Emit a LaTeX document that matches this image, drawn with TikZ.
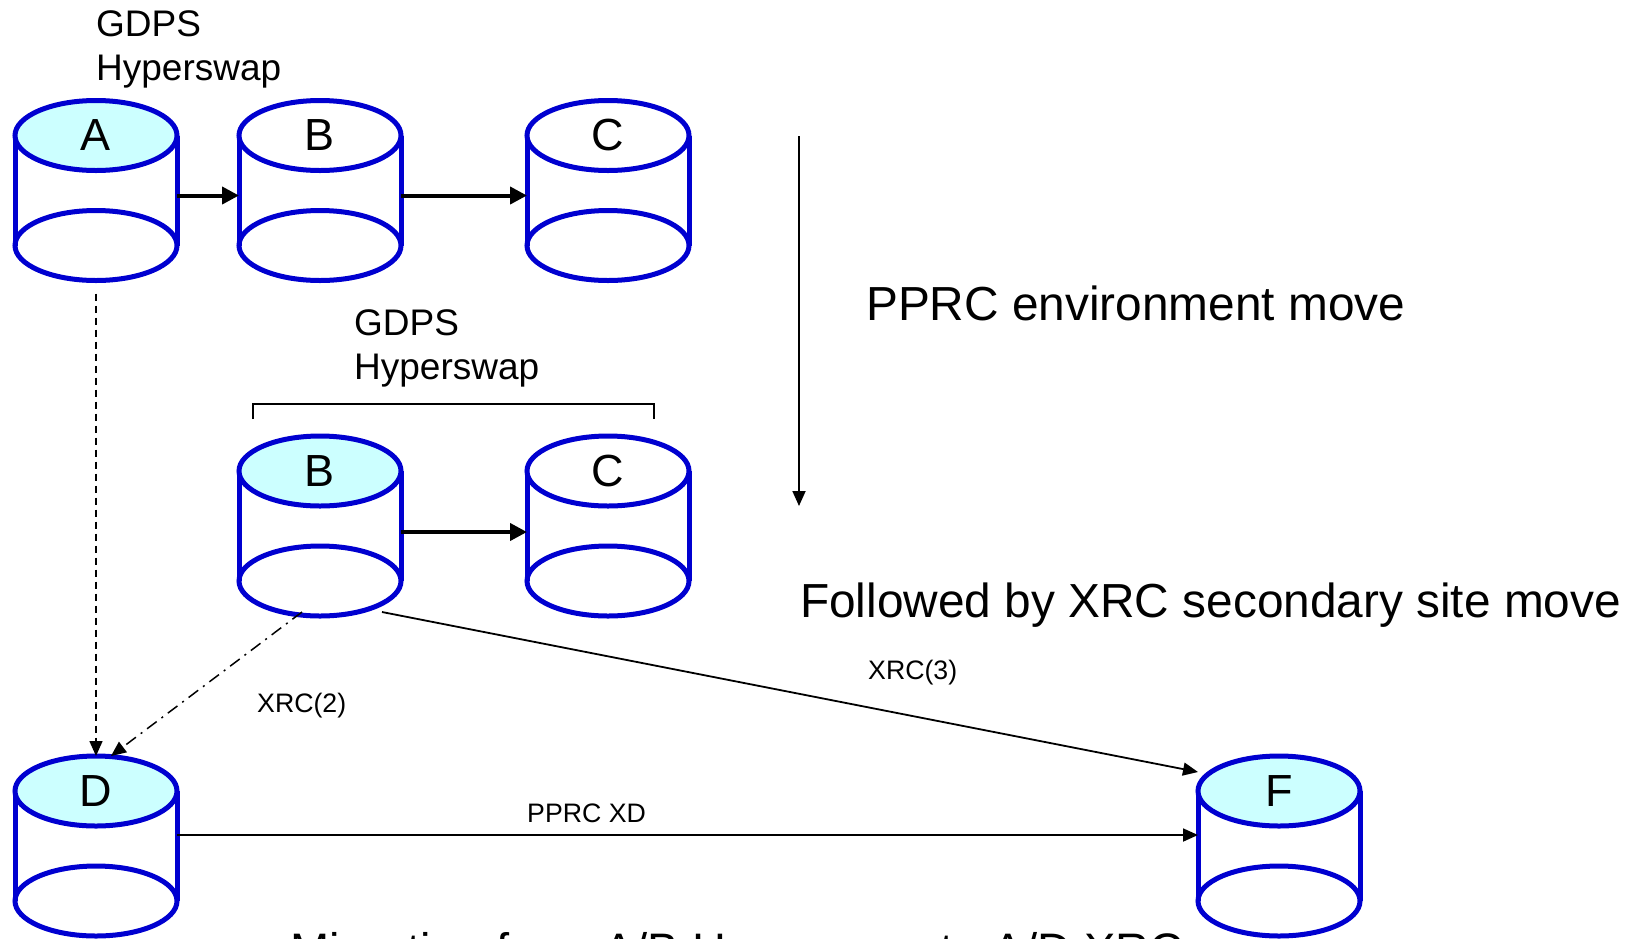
\documentclass[tikz,border=0pt]{standalone}
\usepackage{fontspec}
\setmainfont{Liberation Sans}
\usetikzlibrary{arrows.meta}

\definecolor{diskblue}{RGB}{0,0,208}
\definecolor{diskcyan}{RGB}{204,255,255}

\tikzset{
  drumline/.style={draw=diskblue, line width=5pt},
  drumbody/.style={minimum width=162pt, minimum height=180pt, inner sep=0pt, outer sep=0pt},
  drumlabel/.style={font=\fontsize{45}{54}\selectfont, inner sep=0pt},
  syncarrow/.style={line width=4pt, -{Triangle[length=17pt,width=17pt]}},
  thinarrow/.style={line width=1.8pt, -{Triangle[length=15pt,width=13pt]}},
  bigtext/.style={font=\fontsize{47.8}{57}\selectfont, inner sep=0pt, anchor=base west},
  smalltext/.style={font=\fontsize{26.7}{32}\selectfont, inner sep=0pt, anchor=base west},
  hstext/.style={font=\fontsize{37}{44}\selectfont, inner sep=0pt, anchor=base west}
}

% disk: name, position, letter, top fill
\newcommand{\drum}[4]{%
  \node[drumbody] (#1) at #2 {};
  \draw[drumline, fill=white] ([yshift=35pt]#1.south) ellipse [x radius=81pt, y radius=35pt];
  \draw[drumline] ([yshift=-35pt]#1.north west) -- ([yshift=35pt]#1.south west)
                  ([yshift=-35pt]#1.north east) -- ([yshift=35pt]#1.south east);
  \draw[drumline, fill=#4] ([yshift=-35pt]#1.north) ellipse [x radius=81pt, y radius=35pt];
  \node[drumlabel] (#1-lbl) at ([yshift=-35pt]#1.north) {#3};
}

\begin{document}
\begin{tikzpicture}[x=1pt, y=-1pt]
  \useasboundingbox (0,0) rectangle (1641,938);
  \clip (0,0) rectangle (1641,938);

  % Disks
  \drum{A}{(96,190.5)}{A}{diskcyan}
  \drum{B}{(320,190.5)}{B}{white}
  \drum{C}{(608,190.5)}{C}{white}
  \drum{B2}{(320,526)}{B}{diskcyan}
  \drum{C2}{(608,526)}{C}{white}
  \drum{D}{(96,846)}{D}{diskcyan}
  \drum{F}{(1279,846)}{F}{diskcyan}

  % Texts
  \node[hstext] (hs1) at (96,36) {GDPS};
  \node[hstext] (hs1b) at (96,80) {Hyperswap};
  \node[hstext] (hs2) at (354,335) {GDPS};
  \node[hstext] (hs2b) at (354,379) {Hyperswap};
  \node[bigtext] (envmove) at (866,320) {PPRC environment move};
  \node[bigtext] (sitemove) at (800,617) {Followed by XRC secondary site move};
  \node[bigtext, font=\fontsize{47}{56}\selectfont] (migr) at (290,966) {Migration from A/B Hyperswap to A/D XRC};
  \node[smalltext] (xrc2) at (257,712) {XRC(2)};
  \node[smalltext] (xrc3) at (868,679) {XRC(3)};
  \node[smalltext] (pprcxd) at (527,822) {PPRC XD};

  % Bracket
  \draw[line width=2pt] (253,419) -- (253,404) -- (654,404) -- (654,419);

  % Arrows
  \draw[syncarrow] ([yshift=-5pt]A.east) -- ([yshift=-5pt]B.west);
  \draw[syncarrow] ([yshift=-5pt]B.east) -- ([yshift=-5pt]C.west);
  \draw[syncarrow] ([yshift=-6pt]B2.east) -- ([yshift=-6pt]C2.west);

  \coordinate (movetop) at (799,136);
  \coordinate (movebot) at (799,506);
  \draw[thinarrow] (movetop) -- (movebot);

  \draw[thinarrow, line width=1.5pt, dash pattern=on 7pt off 5pt] ([yshift=-13pt]A.south) -- (D.north);
  \draw[thinarrow, line width=1.5pt, dash pattern=on 12pt off 6pt on 2pt off 6pt]
    ([xshift=-18pt,yshift=4pt]B2.south) -- ([xshift=15pt]D.north);
  \draw[thinarrow] ([xshift=62pt,yshift=4pt]B2.south) -- ([yshift=-16pt]F.north west);
  \draw[thinarrow] ([yshift=11pt]D.east) -- ([yshift=11pt]F.west);
\end{tikzpicture}
\end{document}
